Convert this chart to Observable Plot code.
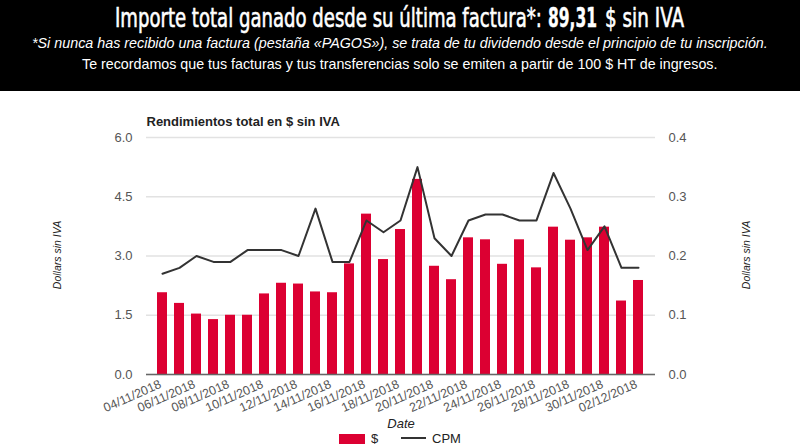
<!DOCTYPE html>
<html>
<head>
<meta charset="utf-8">
<script src="https://cdn.jsdelivr.net/npm/d3@7"></script>
<script src="https://cdn.jsdelivr.net/npm/@observablehq/plot@0.6"></script>
<style>
  body { margin: 0; width: 800px; height: 445px; position: relative; overflow: hidden; background: #fff; font-family: "Liberation Sans", Arial, sans-serif; }
  #hdr { position: absolute; left: 0; top: 0; }
  #chart { position: absolute; left: 0; top: 91px; }
  .lg { position: absolute; font-size: 13px; line-height: 13px; color: #222; white-space: nowrap; }
  .ylab { position: absolute; font-size: 10.5px; font-style: italic; color: #222; white-space: nowrap; transform: translate(-50%, -50%) rotate(-90deg); }
</style>
</head>
<body>
<svg id="hdr" width="800" height="91" xmlns="http://www.w3.org/2000/svg">
  <rect x="0" y="0" width="800" height="91" fill="#000"></rect>
  <g fill="#fff" font-family="'Liberation Sans Narrow','DejaVu Sans Condensed','DejaVu Sans',sans-serif" font-size="27">
    <text class="fitt" data-x="115" data-y="26.5" data-w="427" stroke="#fff" stroke-width="0.6">Importe total ganado desde su última factura*:</text>
    <text class="fitt" data-x="548" data-y="26.5" data-w="49" font-weight="bold" stroke="#fff" stroke-width="0.4">89,31</text>
    <text class="fitt" data-x="605" data-y="26.5" data-w="79" stroke="#fff" stroke-width="0.6">$ sin IVA</text>
  </g>
  <text class="fitt" data-x="32" data-y="48.3" data-w="736" fill="#fff" font-family="'Liberation Sans',Arial,sans-serif" font-size="14" font-style="italic">*Si nunca has recibido una factura (pestaña «PAGOS»), se trata de tu dividendo desde el principio de tu inscripción.</text>
  <text class="fitt" data-x="82" data-y="69.3" data-w="636" fill="#fff" font-family="'Liberation Sans',Arial,sans-serif" font-size="14">Te recordamos que tus facturas y tus transferencias solo se emiten a partir de 100 $ HT de ingresos.</text>
</svg>
<div id="chart"></div>
<div class="ylab" style="left:57px;top:255px;">Dollars sin IVA</div>
<div class="ylab" style="left:746px;top:255px;">Dollars sin IVA</div>
<div class="lg" style="left:339px;top:434px;width:26px;height:10px;background:#dc0032;"></div>
<div class="lg" style="left:371px;top:432px;">$</div>
<div class="lg" style="left:401px;top:437px;width:25px;height:2px;background:#333;"></div>
<div class="lg" style="left:432px;top:432px;">CPM</div>
<script>
const dates = ["04/11/2018","05/11/2018","06/11/2018","07/11/2018","08/11/2018","09/11/2018","10/11/2018","11/11/2018","12/11/2018","13/11/2018","14/11/2018","15/11/2018","16/11/2018","17/11/2018","18/11/2018","19/11/2018","20/11/2018","21/11/2018","22/11/2018","23/11/2018","24/11/2018","25/11/2018","26/11/2018","27/11/2018","28/11/2018","29/11/2018","30/11/2018","01/12/2018","02/12/2018"];
const dollars = [2.07,1.80,1.53,1.39,1.50,1.50,2.04,2.31,2.29,2.09,2.07,2.80,4.06,2.91,3.67,4.94,2.74,2.40,3.46,3.41,2.79,3.41,2.70,3.73,3.40,3.46,3.73,1.86,2.38];
const cpm = [0.17,0.18,0.20,0.19,0.19,0.21,0.21,0.21,0.20,0.28,0.19,0.19,0.26,0.24,0.26,0.35,0.23,0.20,0.26,0.27,0.27,0.26,0.26,0.34,0.28,0.21,0.25,0.18,0.18];
const leftTicks = [0, 1.5, 3, 4.5, 6];
const rightTicks = [0, 0.1, 0.2, 0.3, 0.4];
const xTickLabels = dates.filter((d, i) => i % 2 === 0);
const ratio = 6 / 0.4;

// fit header texts horizontally with a transform
document.querySelectorAll("#hdr .fitt").forEach(t => {
  const w = t.getComputedTextLength();
  const k = (+t.dataset.w) / w;
  t.setAttribute("transform", `translate(${t.dataset.x},${t.dataset.y}) scale(${k},1)`);
});

const rows = dates.map((d, i) => ({date: d, usd: dollars[i], cpm: cpm[i]}));

const chart = Plot.plot({
  width: 800,
  height: 354,
  marginTop: 46,
  marginBottom: 71,
  marginLeft: 146,
  marginRight: 145,
  style: {fontFamily: "'Liberation Sans', Arial, sans-serif", fontSize: "13px", color: "#555", background: "transparent", overflow: "visible"},
  x: {type: "band", domain: dates, paddingInner: 0.39, paddingOuter: 0.195},
  y: {domain: [0, 6]},
  marks: [
    Plot.ruleY(leftTicks, {stroke: "#e2e2e2", strokeWidth: 1.5}),
    Plot.axisY(leftTicks, {anchor: "left", tickSize: 0, tickPadding: 14, tickFormat: d => d.toFixed(1), label: null, fontSize: 13}),
    Plot.axisY(rightTicks.map(v => v * ratio), {anchor: "right", tickSize: 0, tickPadding: 13, tickFormat: d => (d / ratio).toFixed(1), label: null, fontSize: 13}),
    Plot.barY(rows, {x: "date", y: "usd", fill: "#dc0032"}),
    Plot.lineY(rows, {x: "date", y: d => d.cpm * ratio, stroke: "#333", strokeWidth: 2}),
    Plot.ruleY([0], {stroke: "#666", strokeWidth: 1.5}),
    Plot.axisX(xTickLabels, {tickSize: 0, tickRotate: -24, tickPadding: 9, dx: -2, label: null, fontSize: 12.5}),
    Plot.text(["Rendimientos total en $ sin IVA"], {frameAnchor: "top-left", dy: -21, textAnchor: "start", fontWeight: "bold", fontSize: 13, fill: "#222"}),
    Plot.text(["Date"], {frameAnchor: "bottom", dy: 53, fontStyle: "italic", fontSize: 13, fill: "#222"})
  ]
});
document.getElementById("chart").appendChild(chart);
</script>
</body>
</html>
